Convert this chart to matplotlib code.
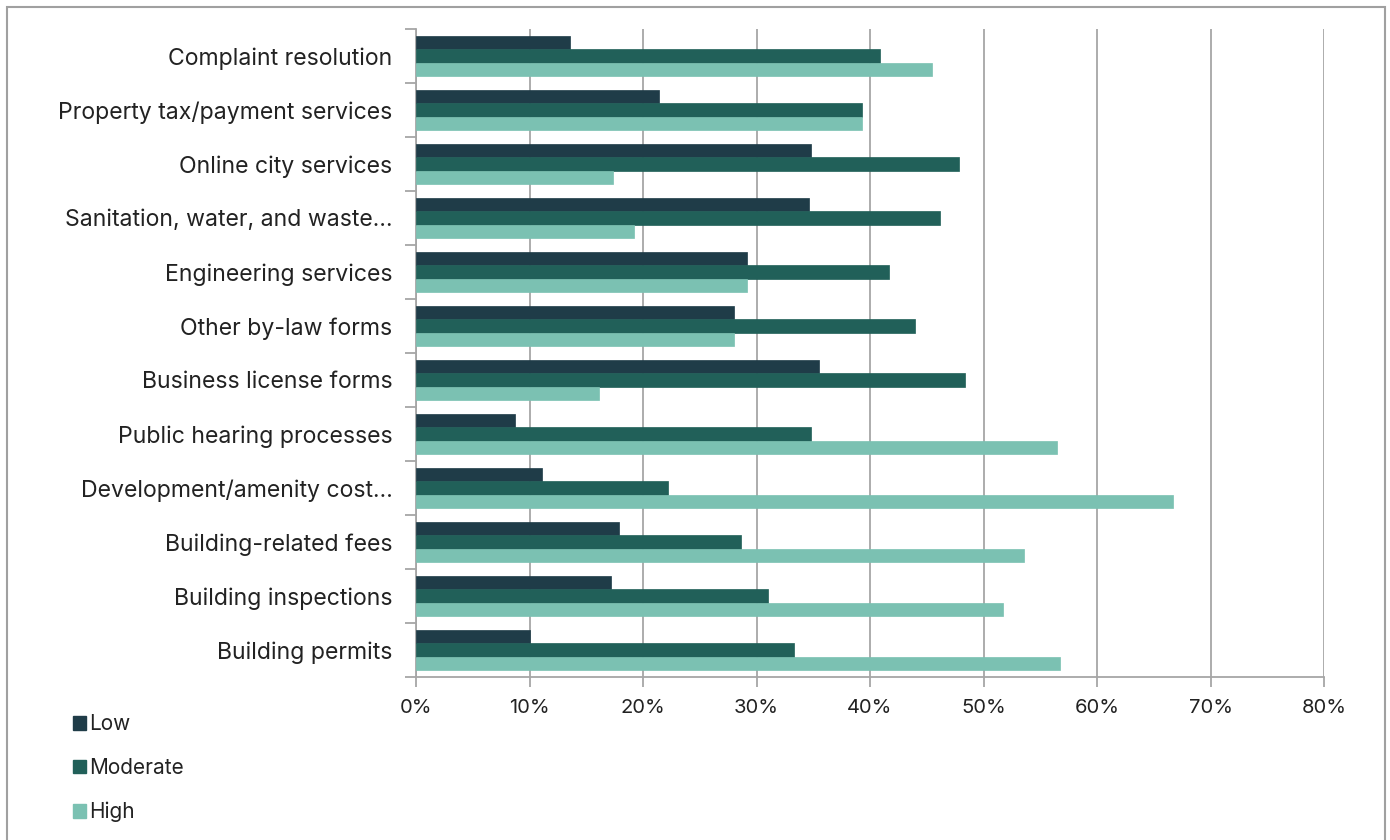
import matplotlib
matplotlib.use("Agg")
import matplotlib.pyplot as plt
from matplotlib.patches import Rectangle, Patch
import numpy as np

plt.rcParams['font.family'] = ['Inter', 'DejaVu Sans']

categories = [
    "Complaint resolution",
    "Property tax/payment services",
    "Online city services",
    "Sanitation, water, and waste\u2026",
    "Engineering services",
    "Other by-law forms",
    "Business license forms",
    "Public hearing processes",
    "Development/amenity cost\u2026",
    "Building-related fees",
    "Building inspections",
    "Building permits",
]
low = [13.6, 21.4, 34.8, 34.6, 29.2, 28.0, 35.5, 8.7, 11.1, 17.9, 17.2, 10.0]
moderate = [40.9, 39.3, 47.8, 46.2, 41.7, 44.0, 48.4, 34.8, 22.2, 28.6, 31.0, 33.3]
high = [45.5, 39.3, 17.4, 19.2, 29.2, 28.0, 16.1, 56.5, 66.7, 53.6, 51.7, 56.7]
series_names = ["Low", "Moderate", "High"]
colors = ["#1F3C48", "#216059", "#7BC1B2"]
xticks = [0, 10, 20, 30, 40, 50, 60, 70, 80]

W, H = 1390, 840
fig = plt.figure(figsize=(W / 100, H / 100), dpi=100)
fig.patch.set_facecolor("white")

ax = fig.add_axes([416 / W, 1 - 677 / H, (1324 - 416) / W, (677 - 29) / H])

y = np.arange(len(categories))
bh = 0.25
grey = "#A6A6A6"
for i, (vals, name, c) in enumerate(zip([low, moderate, high], series_names, colors)):
    ax.barh(y + (i - 1) * bh, vals, height=bh, color=c, label=name,
            edgecolor=c, linewidth=0.5, zorder=3)

ax.set_xlim(0, 80)
ax.set_ylim(len(categories) - 0.5, -0.5)
ax.set_xticks(xticks)
ax.set_xticklabels([f"{t}%" for t in xticks])
ax.set_yticks(y)
ax.set_yticklabels(categories)
ax.set_yticks(np.arange(-0.5, len(categories), 1.0), minor=True)
ax.tick_params(axis='y', which='major', length=0, pad=17, labelsize=16.6, labelcolor="#222222")
ax.tick_params(axis='y', which='minor', length=8, width=1.3, color=grey)
ax.tick_params(axis='x', which='major', length=7, width=1.3, color=grey, pad=9,
               labelsize=14.5, labelcolor="#222222")
ax.grid(axis='x', color=grey, linewidth=1.3, zorder=0)
for s in ["top", "right"]:
    ax.spines[s].set_visible(False)
for s in ["left", "bottom"]:
    ax.spines[s].set_color(grey)
    ax.spines[s].set_linewidth(1.3)

handles = [Patch(facecolor=c, edgecolor=c) for c in colors]
fig.legend(handles, series_names, loc="upper left",
           bbox_to_anchor=(65 / W, 1 - 706 / H), frameon=False,
           fontsize=15, handlelength=0.6, handleheight=0.6,
           handletextpad=0.15, labelspacing=1.14, borderaxespad=0,
           labelcolor="#222222")

fig.patches.append(Rectangle((7 / W, -0.05), (1385 - 7) / W, 1 - 7 / H + 0.05,
                             transform=fig.transFigure, fill=False,
                             edgecolor="#A0A0A0", linewidth=1.5))

fig.savefig("out.png", dpi=100, facecolor="white")
